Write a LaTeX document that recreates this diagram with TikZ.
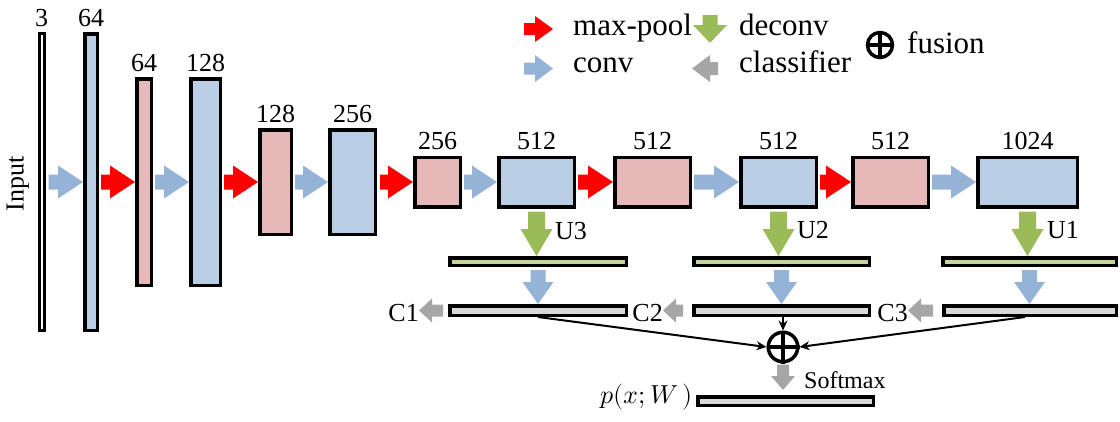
\documentclass[tikz,border=0pt]{standalone}
\usepackage{fontspec}
\usepackage{unicode-math}
\setmainfont{Liberation Serif}
\usetikzlibrary{calc,arrows.meta}
\definecolor{boxblue}{HTML}{B9CDE5}
\definecolor{boxpink}{HTML}{E6B9B8}
\definecolor{arrblue}{HTML}{95B3D7}
\definecolor{arrred}{HTML}{FF0000}
\definecolor{arrgreen}{HTML}{9BBB59}
\definecolor{bargreen}{HTML}{C3D69B}
\definecolor{bargray}{HTML}{D9D9D9}
\definecolor{arrgray}{HTML}{A6A6A6}
% block arrow: #1 colour, #2 start, #3 tip, #4 shaft half width, #5 head half width, #6 head length
\newcommand\blockarr[6]{%
  \path (#2) coordinate (ba-start) (#3) coordinate (ba-tip);
  \path ($(ba-tip)!#6!(ba-start)$) coordinate (ba-base);
  \fill[#1] ($(ba-start)!#4!90:(ba-tip)$) -- ($(ba-base)!#4!90:(ba-tip)$) --
    ($(ba-base)!#5!90:(ba-tip)$) -- (ba-tip) -- ($(ba-base)!#5!-90:(ba-tip)$) --
    ($(ba-base)!#4!-90:(ba-tip)$) -- ($(ba-start)!#4!-90:(ba-tip)$) -- cycle;}
\newcommand\convarr[2]{\blockarr{arrblue}{#1}{#2}{7.5pt}{16.5pt}{25pt}}
\newcommand\poolarr[2]{\blockarr{arrred}{#1}{#2}{7.5pt}{16.5pt}{25pt}}
\tikzset{
  bx/.style={draw, line width=3.5pt, inner sep=0pt, rectangle},
  bb/.style={bx, fill=boxblue},
  pb/.style={bx, fill=boxpink},
  gbar/.style={bx, fill=bargreen, minimum height=7.5pt},
  cbar/.style={bx, fill=bargray, minimum height=9.5pt},
  lbl/.style={font=\fontsize{26}{28}\selectfont, inner sep=0pt},
  every label/.style={lbl},
  label distance=5.5pt,
  legtxt/.style={font=\fontsize{31}{33}\selectfont, inner sep=0pt, anchor=base west},
  fusnode/.style={circle, draw, line width=3.5pt, inner sep=0pt},
  fuseline/.style={line width=2pt, -{Stealth[length=10pt,width=9pt]}},
}
\begin{document}
\begin{tikzpicture}[x=1pt,y=-1pt]
\useasboundingbox (0,0) rectangle (1120,421);
% main row
\node[bx, line width=3pt, fill=white, minimum width=5pt, minimum height=297pt, label=above:3] (in) at (41.5,182) {};
\node[bb, minimum width=12.5pt, minimum height=296.5pt, label=above:64] (b1) at (91,182) {};
\node[pb, minimum width=14.5pt, minimum height=206.5pt, label=above:64] (p1) at (144,182) {};
\node[bb, minimum width=29.5pt, minimum height=206.5pt, label=above:128] (b2) at (205.5,182) {};
\node[pb, minimum width=31.5pt, minimum height=104.5pt, label=above:128] (p2) at (275.5,182) {};
\node[bb, minimum width=45.5pt, minimum height=104.5pt, label=above:256] (b3) at (352.5,182) {};
\node[pb, minimum width=45.5pt, minimum height=49.5pt, label=above:256] (p3) at (437.5,182) {};
\node[bb, minimum width=75.5pt, minimum height=49.5pt, label=above:512] (b4) at (536.5,182) {};
\node[pb, minimum width=75.5pt, minimum height=49.5pt, label=above:512] (p4) at (652.5,182) {};
\node[bb, minimum width=75.5pt, minimum height=49.5pt, label=above:512] (b5) at (778.5,182) {};
\node[pb, minimum width=75.5pt, minimum height=49.5pt, label=above:512] (p5) at (890.5,182) {};
\node[bb, minimum width=99.5pt, minimum height=49.5pt, label=above:1024] (b6) at (1027.5,182) {};
\node[lbl, rotate=90] (inp) at (18,184) {Input};
% row arrows
\convarr{[xshift=3pt]in.east}{b1.west}
\poolarr{[xshift=2pt]b1.east}{p1.west}
\convarr{[xshift=2pt]p1.east}{b2.west}
\poolarr{[xshift=2pt]b2.east}{p2.west}
\convarr{[xshift=2pt]p2.east}{b3.west}
\poolarr{[xshift=3pt]b3.east}{p3.west}
\convarr{[xshift=2pt]p3.east}{b4.west}
\poolarr{[xshift=2pt]b4.east}{p4.west}
\convarr{[xshift=2pt]p4.east}{b5.west}
\poolarr{[xshift=2pt]b5.east}{p5.west}
\convarr{[xshift=2pt]p5.east}{b6.west}
% branch bars
\node[gbar, minimum width=176.5pt] (g1) at (538,261.5) {};
\node[cbar, minimum width=176.5pt] (c1) at (538,310.5) {};
\node[gbar, minimum width=175.5pt] (g2) at (781.5,261.5) {};
\node[cbar, minimum width=175.5pt] (c2) at (781.5,310.5) {};
\node[gbar, minimum width=173.5pt] (g3) at (1029.5,261.5) {};
\node[cbar, minimum width=172.5pt] (c3) at (1030,310.5) {};
\node[cbar, minimum width=175.5pt, minimum height=8.5pt] (out) at (785.5,401) {};
% deconv arrows
\blockarr{arrgreen}{[yshift=-3pt]b4.south}{b4.south |- g1.north}{8.5pt}{16pt}{27pt}
\blockarr{arrgreen}{[yshift=-3pt]b5.south}{b5.south |- g2.north}{8.5pt}{16pt}{27pt}
\blockarr{arrgreen}{[yshift=-3pt]b6.south}{b6.south |- g3.north}{8.5pt}{16pt}{27pt}
\node[lbl, anchor=base west] (U3) at (555,239) {U3};
\node[lbl, anchor=base west] (U2) at (797,238) {U2};
\node[lbl, anchor=base west] (U1) at (1047,238) {U1};
% conv arrows down
\blockarr{arrblue}{[yshift=-3pt]g1.south}{g1.south |- c1.north}{7.5pt}{15.5pt}{22pt}
\blockarr{arrblue}{[yshift=-3pt]g2.south}{g2.south |- c2.north}{7.5pt}{15.5pt}{22pt}
\blockarr{arrblue}{[yshift=-3pt]g3.south}{g3.south |- c3.north}{7.5pt}{15.5pt}{22pt}
% classifiers
\node[lbl, anchor=base east] (C1) at (419,321) {C1};
\node[lbl, anchor=base east] (C2) at (663,321) {C2};
\node[lbl, anchor=base east] (C3) at (908,321) {C3};
\blockarr{arrgray}{[xshift=-5pt]c1.west}{c1.west -| C1.east}{6pt}{12pt}{13pt}
\blockarr{arrgray}{[xshift=-9pt]c2.west}{c2.west -| C2.east}{6pt}{12pt}{13pt}
\blockarr{arrgray}{[xshift=-9pt]c3.west}{c3.west -| C3.east}{6pt}{12pt}{13pt}
% fusion
\node[fusnode, minimum size=29.5pt] (fus) at (783,347) {};
\draw[line width=3.5pt] (fus.north) -- (fus.south) (fus.west) -- (fus.east);
\draw[fuseline] (c1.south) -- (fus.west);
\draw[fuseline] (fus.north |- c2.south) -- (fus.north);
\draw[fuseline] ([xshift=-5pt]c3.south) -- (fus.east);
\path (fus.south |- out.north) coordinate (smtip);
\blockarr{arrgray}{[yshift=-1pt]fus.south}{[yshift=5pt]smtip}{6pt}{12pt}{14pt}
\node[font=\fontsize{24}{26}\selectfont, inner sep=0pt, anchor=base west] (sm) at (804,388) {Softmax};
\node[lbl, anchor=base east] (px) at (693,403) {$p(x;W\,)$};
% legend
\coordinate (lra) at (524,29); \coordinate (lrb) at (553,29);
\coordinate (lba) at (524,68.5); \coordinate (lbb) at (553,68.5);
\coordinate (lga) at (710,15); \coordinate (lgb) at (710,43);
\coordinate (lya) at (718,68.5); \coordinate (lyb) at (692,68.5);
\blockarr{arrred}{lra}{lrb}{6pt}{13pt}{18pt}
\blockarr{arrblue}{lba}{lbb}{6pt}{13.5pt}{18pt}
\blockarr{arrgreen}{lga}{lgb}{7.5pt}{17pt}{18pt}
\blockarr{arrgray}{lya}{lyb}{6.5pt}{13.5pt}{18pt}
\node[legtxt] (lmp) at (573,35) {max-pool};
\node[legtxt] (ldc) at (739,35) {deconv};
\node[legtxt] (lcv) at (573,72) {conv};
\node[legtxt] (lcl) at (739,72) {classifier};
\node[legtxt] (lfu) at (907,53) {fusion};
\node[fusnode, minimum size=25pt] (lfus) at (880,45) {};
\draw[line width=3.5pt] (lfus.north) -- (lfus.south) (lfus.west) -- (lfus.east);
\end{tikzpicture}
\end{document}
